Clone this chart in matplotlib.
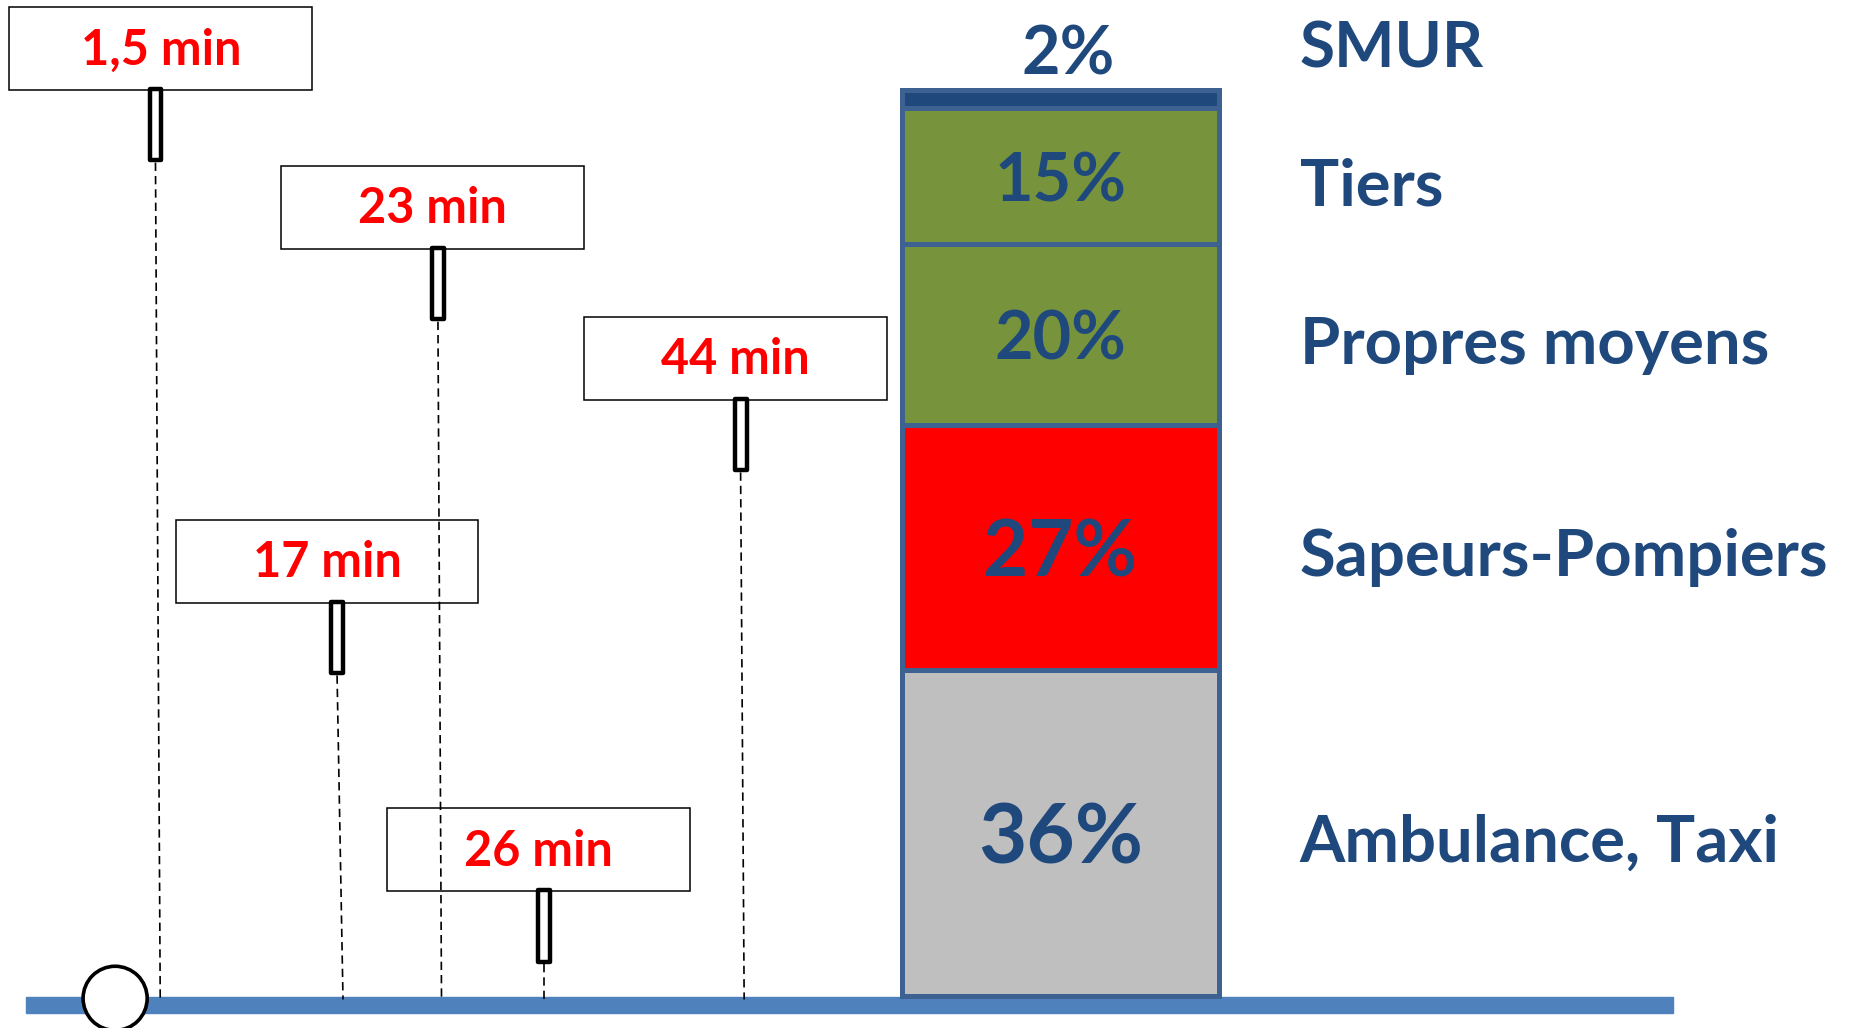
import matplotlib
matplotlib.use('Agg')
import matplotlib.pyplot as plt
from matplotlib.patches import Rectangle, Circle

plt.rcParams['font.family'] = ['Lato', 'DejaVu Sans']

# arrival modes, stacked from bottom to top
modes = ['Ambulance, Taxi', 'Sapeurs-Pompiers', 'Propres moyens', 'Tiers', 'SMUR']
shares = [36, 27, 20, 15, 2]
fills = ['#bfbfbf', '#ff0000', '#77933c', '#77933c', '#1f497d']
pct_sizes = [60, 56, 48, 48, 48]

# delays shown in the little sign boxes
delays = [1.5, 23, 44, 17, 26]

# layout, in pixels of a 1568x866 frame
W, H = 1568, 866
box_x = [8, 237, 492, 148, 326]
box_y = [6, 140, 267, 438, 681]
stem_x = [131, 369, 624, 284, 458]
foot_x = [135, 372, 627, 289, 458]
BOX_W, BOX_H, STEM_H = 255, 70, 60
BASE_Y = 840
BAR_L, BAR_R, BAR_TOP, BAR_BOT = 760, 1027, 76, 839

NAVY = '#1f497d'

fig = plt.figure(figsize=(18.61, 10.28), dpi=100)
ax = fig.add_axes([0, 0, 1, 1])
ax.set_xlim(0, W)
ax.set_ylim(H, 0)
ax.axis('off')

# ground line and the start circle
ax.add_patch(Rectangle((22, BASE_Y), 1388, 13, color='#4f81bd', zorder=1))
ax.add_patch(Circle((97, 841), 27, facecolor='white', edgecolor='black', lw=2.6, zorder=3))

# sign boxes with stems and dashed drop lines
for d, bx, by, sx, fx in zip(delays, box_x, box_y, stem_x, foot_x):
    ax.add_patch(Rectangle((bx, by), BOX_W, BOX_H, facecolor='white', edgecolor='black', lw=1.1, zorder=2))
    label = f'{d:g} min'.replace('.', ',')
    ax.text(bx + BOX_W / 2, by + BOX_H / 2 + 1, label, color='#ff0000', fontsize=35,
            fontweight='bold', ha='center', va='center', zorder=4)
    top = by + BOX_H - 1
    ax.add_patch(Rectangle((sx - 5, top), 10, STEM_H, facecolor='white', edgecolor='black',
                           lw=3.2, joinstyle='round', zorder=3))
    ax.plot([sx, fx], [top + STEM_H + 2, BASE_Y + 2], color='black', lw=1.2,
            dashes=(5, 3), zorder=5)

# stacked bar in its own axes, 0..100 %
bax = fig.add_axes([BAR_L / W, 1 - BAR_BOT / H, (BAR_R - BAR_L) / W, (BAR_BOT - BAR_TOP) / H])
bax.set_xlim(-0.5, 0.5)
bax.set_ylim(0, 100)
bax.axis('off')

px_per_pct = (BAR_BOT - BAR_TOP) / 100.0
bottom = 0
for name, s, c, fs in zip(modes, shares, fills, pct_sizes):
    bax.bar(0, s, width=1, bottom=bottom, color=c, edgecolor='#3d6190', linewidth=3.6,
            clip_on=False, zorder=2)
    mid = bottom + s / 2
    if s < 5:
        # too thin: percentage and name go above the bar
        bax.text(0.025, 100 + (BAR_TOP - 42) / px_per_pct, f'{s}%', color=NAVY, fontsize=fs,
                 fontweight='bold', ha='center', va='center_baseline', clip_on=False)
        ax.text(1095, 37, name, color=NAVY, fontsize=46, fontweight='bold',
                ha='left', va='center_baseline')
    else:
        bax.text(0, mid, f'{s}%', color=NAVY, fontsize=fs, fontweight='bold',
                 ha='center', va='center_baseline', zorder=3)
        ax.text(1095, BAR_BOT - mid * px_per_pct + 4, name, color=NAVY, fontsize=47,
                fontweight='bold', ha='left', va='center_baseline')
    bottom += s

fig.savefig('out.png', dpi=100)
